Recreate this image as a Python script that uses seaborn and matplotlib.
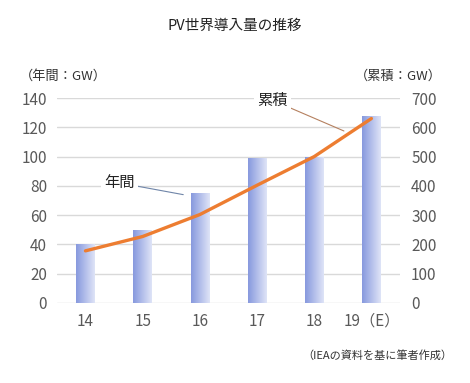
import numpy as np
import pandas as pd
import matplotlib
matplotlib.use("Agg")
import matplotlib.pyplot as plt
import seaborn as sns
from matplotlib.colors import LinearSegmentedColormap

categories = ["14", "15", "16", "17", "18", "19（E）"]
annual = [40, 50, 75, 99, 100, 128]
cumulative = [178, 227, 302, 402, 500, 630]
left_ticks = [0, 20, 40, 60, 80, 100, 120, 140]
right_ticks = [0, 100, 200, 300, 400, 500, 600, 700]

sns.set_theme(style="white")
plt.rcParams['font.family'] = ['Noto Sans CJK JP', 'DejaVu Sans']

df = pd.DataFrame({"year": categories, "annual": annual, "cum": cumulative})

fig = plt.figure(figsize=(4.7, 3.83), dpi=100)
ax = fig.add_axes([0.121, 0.209, 0.730, 0.535])

sns.barplot(data=df, x="year", y="annual", ax=ax, width=0.32, color="#9aa8e4",
            saturation=1, zorder=2)

# gradient fill for bars
cmap = LinearSegmentedColormap.from_list("g", ["#8799de", "#dfe4f7"])
grad = np.linspace(0, 1, 64).reshape(1, -1)
for p in list(ax.patches):
    x0, y0 = p.get_x(), p.get_y()
    w, h = p.get_width(), p.get_height()
    p.set_facecolor("none")
    p.set_edgecolor("none")
    im = ax.imshow(grad, cmap=cmap, aspect="auto", extent=[x0, x0 + w, y0, y0 + h],
                   zorder=2, interpolation="bicubic")
    im.set_clip_path(p)

ax.set_xlim(-0.5, len(categories) - 0.5)
ax.set_ylim(0, 140)
ax.set_yticks(left_ticks)
ax.yaxis.grid(True, color="#d9d9d9", lw=1, zorder=0)
ax.set_axisbelow(True)
ax.set_xlabel("")
ax.set_ylabel("")
for s in ax.spines.values():
    s.set_visible(False)
ax.tick_params(axis="both", length=0, labelsize=11, labelcolor="#595959")
ax.tick_params(axis="x", pad=7)
ax.tick_params(axis="y", pad=7)

ax2 = ax.twinx()
sns.lineplot(x=np.arange(len(categories)), y=cumulative, ax=ax2, color="#ED7D31",
             lw=2.4, zorder=5)
ax2.set_ylim(0, 700)
ax2.set_yticks(right_ticks)
ax2.set_xlim(-0.5, len(categories) - 0.5)
for s in ax2.spines.values():
    s.set_visible(False)
ax2.tick_params(axis="y", length=0, labelsize=11, labelcolor="#595959", pad=8)
ax2.set_ylabel("")
ax2.grid(False)

# annotations
ax.annotate("年間", xy=(1.71, 74), xytext=(0.6, 82), fontsize=11, color="#222222",
            ha="center", va="center", zorder=6,
            bbox=dict(boxstyle="square,pad=0.2", fc="white", ec="none"),
            arrowprops=dict(arrowstyle="-", color="#6f85a8", lw=0.8, shrinkA=0, shrinkB=0))
ax.annotate("累積", xy=(4.52, 117.5), xytext=(3.27, 138.5), fontsize=11, color="#222222",
            ha="center", va="center", zorder=6, annotation_clip=False,
            bbox=dict(boxstyle="square,pad=0.2", fc="white", ec="none"),
            arrowprops=dict(arrowstyle="-", color="#b5805f", lw=0.8, shrinkA=0, shrinkB=0))

fig.text(0.5, 0.933, "PV世界導入量の推移", ha="center", va="center", fontsize=10.5, color="#222222")
fig.text(0.042, 0.80, "（年間：GW）", ha="left", va="center", fontsize=9.5, color="#333333")
fig.text(0.94, 0.80, "（累積：GW）", ha="right", va="center", fontsize=9.5, color="#333333")
fig.text(0.963, 0.073, "（IEAの資料を基に筆者作成）", ha="right", va="center", fontsize=8, color="#333333")

fig.savefig("out.png", dpi=100)
